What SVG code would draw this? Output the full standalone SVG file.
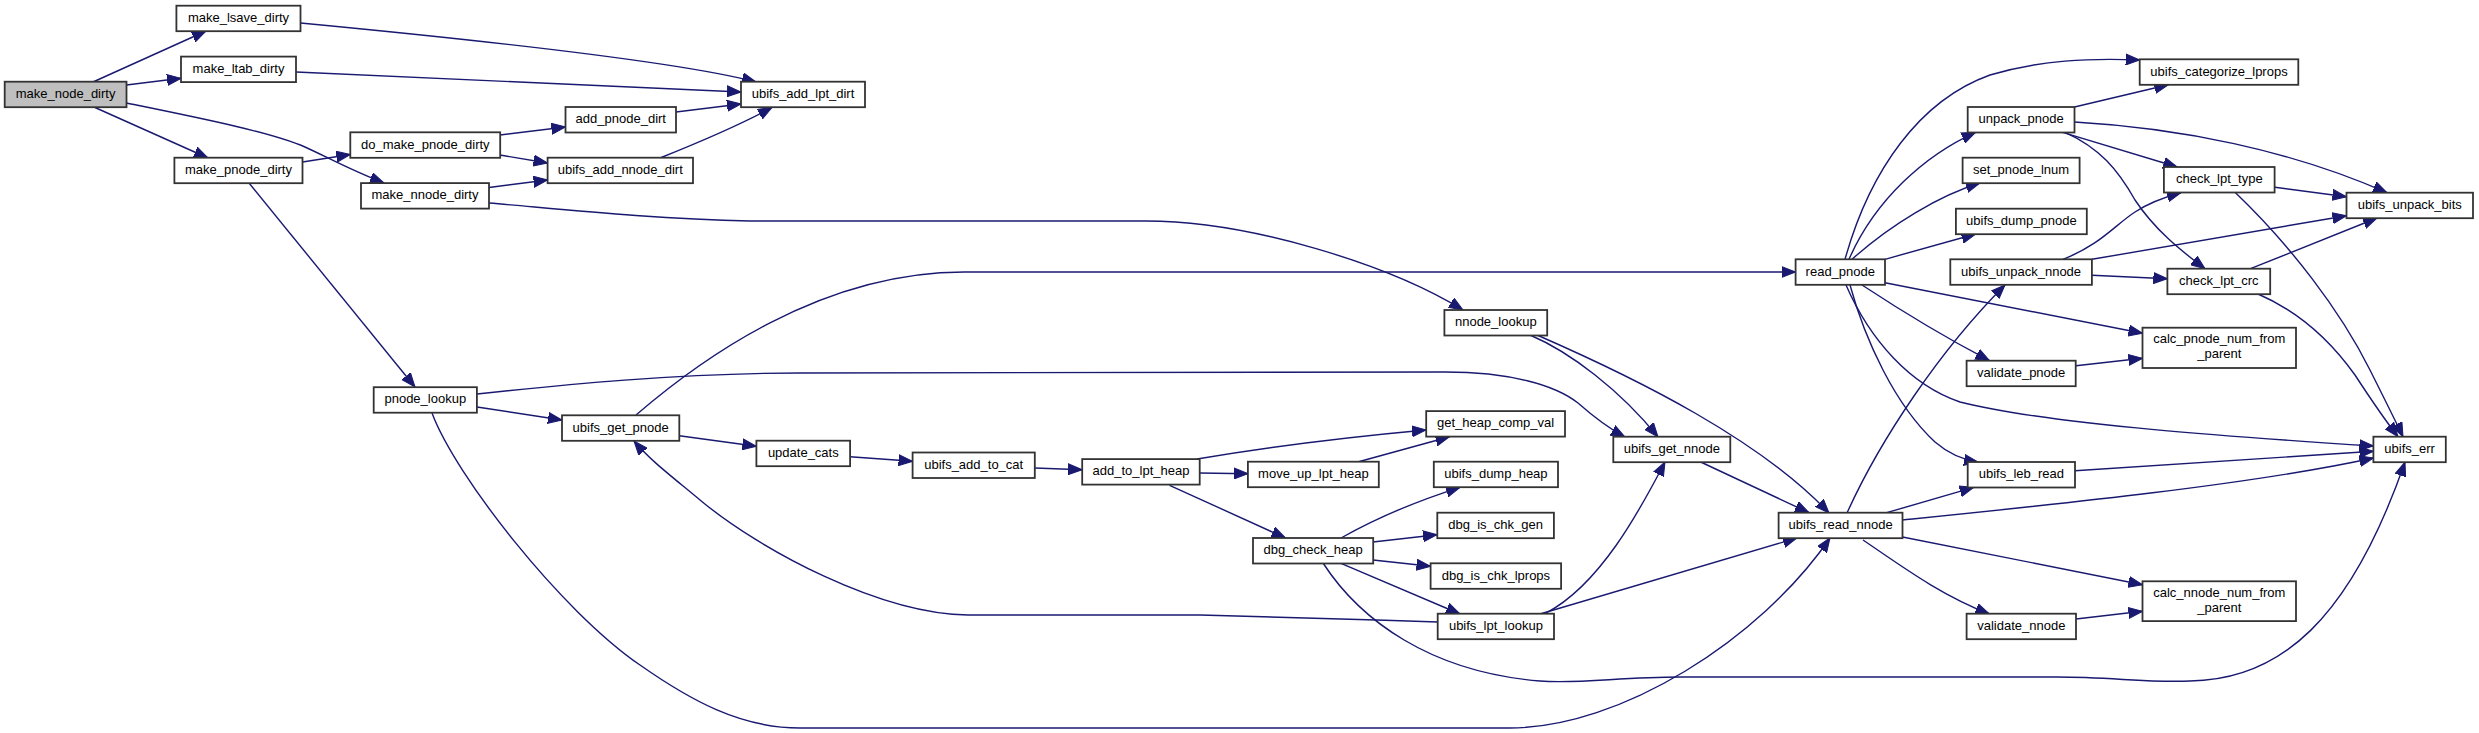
<svg xmlns="http://www.w3.org/2000/svg" width="2479" height="733" viewBox="0 0 2479 733">
<style>
.n rect{fill:#ffffff;stroke:#333333;stroke-width:1.8}
.r rect{fill:#bfbfbf}
.n text{font-family:"Liberation Sans",Arial,sans-serif;font-size:13px;fill:#000000;text-anchor:middle}
.e path{fill:none;stroke:#191970;stroke-width:1.4;marker-end:url(#ah)}
</style>
<defs>
<marker id="ah" markerUnits="userSpaceOnUse" markerWidth="15" markerHeight="12" viewBox="0 0 15 12" refX="14" refY="6" orient="auto">
<path d="M0,0.5 L14,6 L0,11.5 z" fill="#191970" stroke="#191970" stroke-width="1"/>
</marker>
</defs>
<rect width="2479" height="733" fill="#ffffff"/>
<g id="edges" class="e">
<path d="M93,82 L206,31"/>
<path d="M126.5,85 L181,78.3"/>
<path d="M95,107.5 L208,158"/>
<path d="M126.5,103 C200,118 270,132 305,147 C325,156 350,170 384,183"/>
<path d="M300.5,23 C500,42 680,62 756,82"/>
<path d="M296,72 C500,80 640,87 741,92"/>
<path d="M676,112 L741,104"/>
<path d="M660,158 C700,142 740,125 772,107.5"/>
<path d="M302.5,162 L350.3,154.5"/>
<path d="M249,183 L415,387"/>
<path d="M500,135 L565.5,127"/>
<path d="M500,155 L547.6,163"/>
<path d="M489,187.5 L547.6,180"/>
<path d="M489,203 C560,209 650,219 750,221 L1146,221 C1250,221 1390,265 1463,310"/>
<path d="M477,407 L562,420"/>
<path d="M477,394 C560,385 680,373 800,373 L1445,372 C1510,372 1555,385 1578,403 C1595,418 1608,428 1625,437"/>
<path d="M432,413 C455,475 560,610 640,665 C690,700 740,728 800,728 L1510,728 C1620,728 1760,640 1830,538"/>
<path d="M636,415 C700,360 820,272 964,272 L1795.6,272"/>
<path d="M679.3,435.7 L756.4,446.3"/>
<path d="M850,456.7 L912.6,461.3"/>
<path d="M1034.8,468 L1082,469.7"/>
<path d="M1197,459 C1280,445 1360,436 1426,430"/>
<path d="M1199.7,473 L1248,473.7"/>
<path d="M1169.6,485.3 L1285.5,538"/>
<path d="M1358.6,461.7 L1449.6,436.7"/>
<path d="M1341,538 C1380,516 1420,500 1460,487.3"/>
<path d="M1373,542 L1437,534.7"/>
<path d="M1373,560 L1430.6,566.3"/>
<path d="M1341,563.3 L1460,614"/>
<path d="M1323,563 C1360,620 1430,672 1540,681 C1580,684 1620,677 1680,677 L2057,677 C2110,677 2150,683 2190,681 C2280,680 2350,620 2405,462"/>
<path d="M1437.7,622 C1350,619 1250,616 1200,615 L968,615 C880,614 760,550 700,500 C670,475 650,460 634,441"/>
<path d="M1546,613 C1600,585 1640,510 1665,462"/>
<path d="M1540,614 L1797,538"/>
<path d="M1530,335 C1570,352 1620,390 1658,437"/>
<path d="M1537,335 C1640,380 1760,440 1829,513"/>
<path d="M1700.7,462 L1809,512.7"/>
<path d="M1847,513 C1880,440 1940,350 2005,285"/>
<path d="M1886.7,512.7 L1973.7,487.3"/>
<path d="M1902.5,520 C2050,505 2250,485 2373.4,458"/>
<path d="M1902.5,537 L2142.5,584.7"/>
<path d="M1863,540 C1900,565 1940,595 1989.5,614"/>
<path d="M2076,619 L2142.5,611.3"/>
<path d="M2075,470.7 L2373.4,451.3"/>
<path d="M1845,259.3 C1870,170 1920,100 1990,75 C2040,60 2090,58 2139.7,60"/>
<path d="M1849,259.3 C1875,200 1925,155 1975.6,132.3"/>
<path d="M1852,259.3 C1890,225 1940,195 1980,183"/>
<path d="M1885,259.3 L1975.6,234"/>
<path d="M1885,282.7 L2142.5,333.3"/>
<path d="M1862,285 C1900,310 1950,340 1989.5,360.7"/>
<path d="M1850,285 C1865,340 1895,405 1935,442 C1950,455 1965,460 1978,462"/>
<path d="M1846,285 C1870,340 1910,385 1960,402 C2050,425 2250,438 2373.4,446"/>
<path d="M2076,365.7 L2142.5,358.3"/>
<path d="M2074.5,107 L2168.3,84.7"/>
<path d="M2074.5,122 C2180,128 2290,150 2387,192.7"/>
<path d="M2062.6,132.3 L2177.3,167"/>
<path d="M2065,132.3 C2100,148 2118,170 2135,200 C2155,230 2180,250 2205,268.7"/>
<path d="M2063,259.3 C2100,245 2115,225 2135,212 C2150,202 2165,197 2181,192.7"/>
<path d="M2092,259.3 L2346.5,215.7"/>
<path d="M2092,275.3 L2167.4,278.7"/>
<path d="M2275,187.3 L2346.5,196.7"/>
<path d="M2235,192.3 C2290,245 2340,310 2370,370 C2385,400 2395,420 2403,436.7"/>
<path d="M2250.5,268.7 L2377,218"/>
<path d="M2258,294 C2300,312 2330,340 2355,375 C2370,398 2385,420 2398,436.7"/>
</g>
<g id="make_node_dirty" class="n r"><rect x="4.7" y="81.7" width="121.8" height="25.5"/><text x="65.6" y="97.9">make_node_dirty</text></g>
<g id="make_lsave_dirty" class="n"><rect x="176.4" y="5.7" width="124.1" height="25.5"/><text x="238.5" y="21.9">make_lsave_dirty</text></g>
<g id="make_ltab_dirty" class="n"><rect x="181" y="56.6" width="115" height="25.5"/><text x="238.5" y="72.8">make_ltab_dirty</text></g>
<g id="make_pnode_dirty" class="n"><rect x="174.4" y="157.7" width="128.1" height="25.5"/><text x="238.5" y="173.9">make_pnode_dirty</text></g>
<g id="do_make_pnode_dirty" class="n"><rect x="350.3" y="132.3" width="149.9" height="25.5"/><text x="425.3" y="148.5">do_make_pnode_dirty</text></g>
<g id="make_nnode_dirty" class="n"><rect x="361" y="183.1" width="128" height="25.5"/><text x="425" y="199.3">make_nnode_dirty</text></g>
<g id="add_pnode_dirt" class="n"><rect x="565.5" y="107" width="110.5" height="25.5"/><text x="620.8" y="123.2">add_pnode_dirt</text></g>
<g id="ubifs_add_nnode_dirt" class="n"><rect x="547.6" y="157.7" width="145.4" height="25.5"/><text x="620.3" y="173.9">ubifs_add_nnode_dirt</text></g>
<g id="ubifs_add_lpt_dirt" class="n"><rect x="741" y="81.7" width="124" height="25.5"/><text x="803" y="97.9">ubifs_add_lpt_dirt</text></g>
<g id="pnode_lookup" class="n"><rect x="373.7" y="387.2" width="103.2" height="25.5"/><text x="425.3" y="403.4">pnode_lookup</text></g>
<g id="ubifs_get_pnode" class="n"><rect x="562" y="415.3" width="117.3" height="25.5"/><text x="620.7" y="431.5">ubifs_get_pnode</text></g>
<g id="update_cats" class="n"><rect x="756.4" y="440.7" width="93.7" height="25.5"/><text x="803.3" y="456.9">update_cats</text></g>
<g id="ubifs_add_to_cat" class="n"><rect x="912.6" y="452.5" width="122.2" height="25.5"/><text x="973.7" y="468.7">ubifs_add_to_cat</text></g>
<g id="add_to_lpt_heap" class="n"><rect x="1082.2" y="459.1" width="117.5" height="25.5"/><text x="1141" y="475.3">add_to_lpt_heap</text></g>
<g id="nnode_lookup" class="n"><rect x="1444.4" y="310" width="102.8" height="25.5"/><text x="1495.8" y="326.2">nnode_lookup</text></g>
<g id="get_heap_comp_val" class="n"><rect x="1426.2" y="411.1" width="138.8" height="25.5"/><text x="1495.6" y="427.3">get_heap_comp_val</text></g>
<g id="move_up_lpt_heap" class="n"><rect x="1247.9" y="461.7" width="130.9" height="25.5"/><text x="1313.4" y="477.9">move_up_lpt_heap</text></g>
<g id="ubifs_dump_heap" class="n"><rect x="1433.8" y="461.7" width="124.2" height="25.5"/><text x="1495.9" y="477.9">ubifs_dump_heap</text></g>
<g id="dbg_is_chk_gen" class="n"><rect x="1437.3" y="512.7" width="116.6" height="25.5"/><text x="1495.6" y="528.9">dbg_is_chk_gen</text></g>
<g id="dbg_check_heap" class="n"><rect x="1253" y="538" width="120.2" height="25.5"/><text x="1313.1" y="554.2">dbg_check_heap</text></g>
<g id="dbg_is_chk_lprops" class="n"><rect x="1430.6" y="563.3" width="130.5" height="25.5"/><text x="1495.9" y="579.5">dbg_is_chk_lprops</text></g>
<g id="ubifs_lpt_lookup" class="n"><rect x="1437.7" y="613.7" width="116.3" height="25.5"/><text x="1495.9" y="629.9">ubifs_lpt_lookup</text></g>
<g id="ubifs_get_nnode" class="n"><rect x="1613.3" y="436.7" width="117" height="25.5"/><text x="1671.8" y="452.9">ubifs_get_nnode</text></g>
<g id="ubifs_read_nnode" class="n"><rect x="1778.6" y="512.7" width="123.9" height="25.5"/><text x="1840.6" y="528.9">ubifs_read_nnode</text></g>
<g id="read_pnode" class="n"><rect x="1795.6" y="259.3" width="89.4" height="25.5"/><text x="1840.3" y="275.5">read_pnode</text></g>
<g id="ubifs_categorize_lprops" class="n"><rect x="2139.7" y="59.3" width="158.6" height="25.5"/><text x="2219" y="75.5">ubifs_categorize_lprops</text></g>
<g id="unpack_pnode" class="n"><rect x="1967.7" y="107" width="106.8" height="25.5"/><text x="2021.1" y="123.2">unpack_pnode</text></g>
<g id="set_pnode_lnum" class="n"><rect x="1962.6" y="157.7" width="117" height="25.5"/><text x="2021.1" y="173.9">set_pnode_lnum</text></g>
<g id="check_lpt_type" class="n"><rect x="2163.9" y="167" width="110.7" height="25.5"/><text x="2219.3" y="183.2">check_lpt_type</text></g>
<g id="ubifs_unpack_bits" class="n"><rect x="2346.5" y="192.7" width="126.5" height="25.5"/><text x="2409.8" y="208.9">ubifs_unpack_bits</text></g>
<g id="ubifs_dump_pnode" class="n"><rect x="1955.9" y="208.7" width="130.9" height="25.5"/><text x="2021.4" y="224.9">ubifs_dump_pnode</text></g>
<g id="ubifs_unpack_nnode" class="n"><rect x="1950.3" y="259.3" width="141.6" height="25.5"/><text x="2021.1" y="275.5">ubifs_unpack_nnode</text></g>
<g id="check_lpt_crc" class="n"><rect x="2167.4" y="268.7" width="102.8" height="25.5"/><text x="2218.8" y="284.9">check_lpt_crc</text></g>
<g id="calc_pnode_num_from_parent" class="n"><rect x="2142.5" y="327.7" width="153.5" height="40.3"/><text x="2219.3" y="343.3">calc_pnode_num_from</text><text x="2219.3" y="358.3">_parent</text></g>
<g id="validate_pnode" class="n"><rect x="1966.6" y="360.7" width="109.1" height="25.5"/><text x="2021.2" y="376.9">validate_pnode</text></g>
<g id="ubifs_err" class="n"><rect x="2373.4" y="436.7" width="72.4" height="25.5"/><text x="2409.6" y="452.9">ubifs_err</text></g>
<g id="ubifs_leb_read" class="n"><rect x="1967.7" y="462" width="107.3" height="25.5"/><text x="2021.4" y="478.2">ubifs_leb_read</text></g>
<g id="calc_nnode_num_from_parent" class="n"><rect x="2142.5" y="581.3" width="153.5" height="39.8"/><text x="2219.3" y="596.8">calc_nnode_num_from</text><text x="2219.3" y="611.8">_parent</text></g>
<g id="validate_nnode" class="n"><rect x="1966.6" y="613.7" width="109.4" height="25.5"/><text x="2021.3" y="629.9">validate_nnode</text></g>
</svg>
